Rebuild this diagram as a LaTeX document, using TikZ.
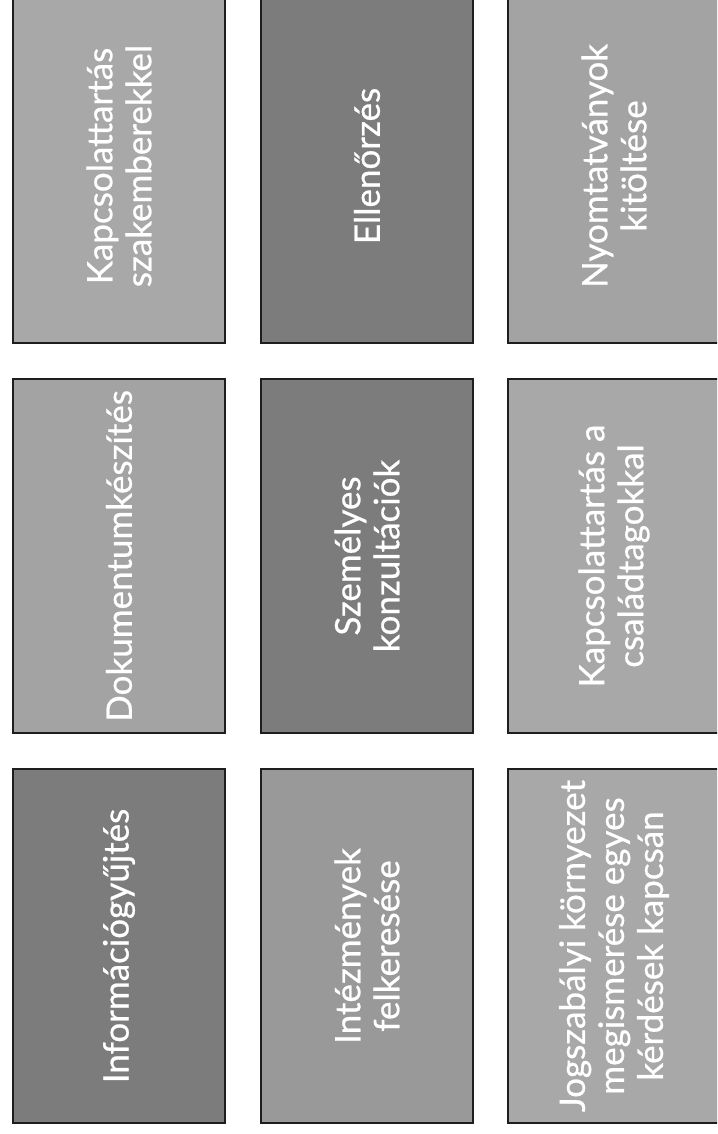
\documentclass[tikz,border=0pt]{standalone}
\usepackage{fontspec}
\newfontfamily\tilefont{Lato}[FakeBold=0.7]
\usepackage{tikz}
\usetikzlibrary{positioning}
\definecolor{tileLight}{RGB}{168,168,168}
\definecolor{tilePale}{RGB}{163,163,163}
\definecolor{tileMid}{RGB}{153,153,153}
\definecolor{tileDark}{RGB}{124,124,124}
\definecolor{tileEdge}{RGB}{30,30,30}
\tikzset{
  tile/.style={draw=tileEdge, line width=1.6pt, rectangle, rotate=90,
    minimum width=354pt, minimum height=212pt, inner sep=0pt,
    text=white, align=center, font=\tilefont\fontsize{35}{39}\selectfont}
}

\begin{document}
\begin{tikzpicture}[x=1pt, y=-1pt]
    \clip (0,0) rectangle (717,1134);
    % top row
    \node[tile, fill=tileLight] (kapcsSzak) at (119,166) {Kapcsolattartás\\szakemberekkel};
    \node[tile, fill=tileDark]  (ellenorzes) at (367,166) {Ellenőrzés};
    \node[tile, fill=tilePale]  (nyomtatvany) at (614,166) {Nyomtatványok\\kitöltése};
    % middle row
    \node[tile, fill=tilePale]  (dokumentum) at (119,556) {Dokumentumkészítés};
    \node[tile, fill=tileDark]  (konzultacio) at (367,556) {Személyes\\konzultációk};
    \node[tile, fill=tileLight] (kapcsCsalad) at (614,556) {Kapcsolattartás a\\családtagokkal};
    % bottom row
    \node[tile, fill=tileDark]  (informacio) at (119,946) {Információgyűjtés};
    \node[tile, fill=tileMid]   (intezmeny) at (367,946) {Intézmények\\felkeresése};
    \node[tile, fill=tileLight] (jogszabaly) at (614,946) {Jogszabályi környezet\\megismerése egyes\\kérdések kapcsán};
  \end{tikzpicture}
\end{document}
